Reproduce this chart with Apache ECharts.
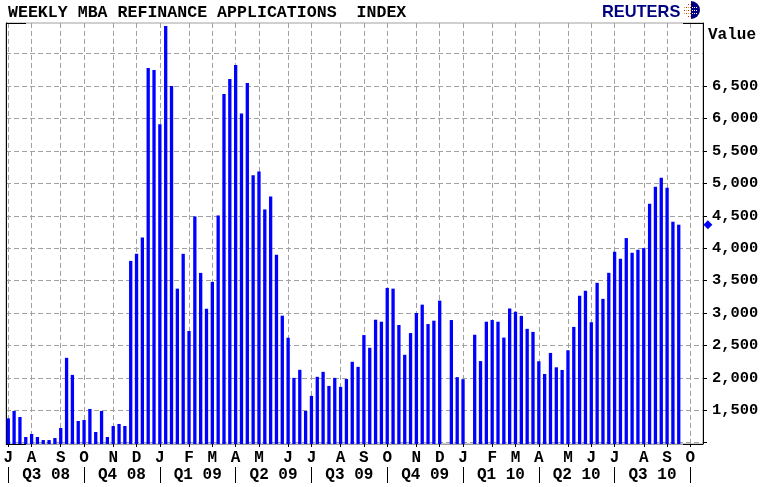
<!DOCTYPE html>
<html>
<head>
<meta charset="utf-8">
<style>
  html, body { margin: 0; padding: 0; background: #fff; }
  #c_container { width: 763px; height: 487px; }
</style>
<script src="https://cdn.jsdelivr.net/npm/echarts@6/dist/echarts.min.js"></script>
</head>
<body>
<div id="c_container"></div>
<script>
// weekly index, null = no bar that week
var values = [
  1376, 1490, 1397, 1088, 1134, 1088, 1041, 1041, 1072, 1227,
  2309, 2046, 1335, 1350, 1521, 1165, 1490, 1088, 1258, 1289,
  1258, 3804, 3913, 4165, 6779, 6748, 5913, 7428, 6500, 3376,
  3913, 2722, 4490, 3619, 3067, 3480, 4505, 6377, 6609, 6825,
  6078, 6547, 5124, 5181, 4598, 4799, 3897, 2959, 2619, 2000,
  2124, 1490, 1722, 2016, 2093, 1876, 2000, 1861, 1982, 2248,
  2170, 2660, 2464, 2897, 2866, 3387, 3376, 2815, 2356, 2691,
  3000, 3129, 2830, 2882, 3191, null, 2892, 2011, 1979, null,
  2665, 2259, 2866, 2892, 2866, 2621, 3070, 3020, 2956, 2756,
  2709, 2256, 2060, 2385, 2163, 2122, 2426, 2786, 3265, 3342,
  2858, 3466, 3219, 3620, 3945, 3836, 4156, 3929, 3976, 4001,
  4687, 4949, 5088, 4933, 4408, 4362
];
var lastValue = 4362;
var lastMarkerPos = 120;

var monthTicks = [0, 4, 9, 13, 18, 22, 26, 31, 35, 39, 43, 48, 52, 57, 61, 65, 70, 74, 78, 83, 87, 91, 96, 100, 104, 109, 113, 117];
var monthLabels = ["J", "A", "S", "O", "N", "D", "J", "F", "M", "A", "M", "J", "J", "A", "S", "O", "N", "D", "J", "F", "M", "A", "M", "J", "J", "A", "S", "O"];

var quarterTicks = [0, 13, 26, 39, 52, 65, 78, 91, 104, 117];
var quarterMids = [6.5, 19.5, 32.5, 45.5, 58.5, 71.5, 84.5, 97.5, 110.5];
var quarterLabels = ["Q3 08", "Q4 08", "Q1 09", "Q2 09", "Q3 09", "Q4 09", "Q1 10", "Q2 10", "Q3 10"];

var gridValues = [1000, 1500, 2000, 2500, 3000, 3500, 4000, 4500, 5000, 5500, 6000, 6500, 7000];
var tickValues = [1000, 1500, 2000, 2500, 3000, 3500, 4000, 4500, 5000, 5500, 6000, 6500];
var labelValues = [1500, 2000, 2500, 3000, 3500, 4000, 4500, 5000, 5500, 6000, 6500];

var font_name = "Liberation Mono";
var grey = "#a0a0a0";
var blue = "#0000ff";
var navy = "#000080";
var xMin = -0.39, xMax = 119.16;
var yMin = 980, yMax = 7473;

var barData = [];
for (var i = 0; i < values.length; i++) {
  if (values[i] !== null) barData.push([i, values[i]]);
}

var dashed = { show: true, lineStyle: { color: grey, type: [5, 3], width: 1 } };

function blackLine(x1, y, x2) {
  return { type: "line", shape: { x1: x1, y1: y, x2: x2, y2: y }, style: { stroke: "#000" }, z: 10 };
}

function dot(x, y, color) {
  return { type: "rect", shape: { x: x, y: y, width: 1, height: 1 }, style: { fill: color }, z: 12 };
}

// reuters logo: half globe with a grid of dots
var logo = [
  {
    type: "text", x: 602, y: 4, z: 10,
    style: { text: "REUTERS", fill: navy, fontFamily: "Liberation Sans", fontWeight: "bold", fontSize: 16.4 }
  },
  { type: "sector", shape: { cx: 691, cy: 10, r: 9, r0: 0, startAngle: -Math.PI / 2, endAngle: Math.PI / 2 }, style: { fill: navy }, z: 10 }
];
[4, 7, 10, 13, 16].forEach(function (y, row) {
  [684, 686, 688, 690].forEach(function (x, col) {
    if (row == 0 && col < 2) return;
    if (row == 4 && col < 2) return;
    logo.push(dot(x, y, (col + row) % 2 ? "#e0b020" : "#d02020"));
  });
});
[7, 10, 13].forEach(function (y) {
  [692, 694, 696].forEach(function (x) {
    logo.push(dot(x, y, "#ffffff"));
  });
});

var myChart = echarts.init(document.getElementById("c_container"));
myChart.setOption({
  animation: false,
  backgroundColor: "#fff",
  grid: { left: 6, right: 60, top: 23, bottom: 43, show: true, borderColor: grey, borderWidth: 1 },
  title: {
    text: "WEEKLY MBA REFINANCE APPLICATIONS  INDEX",
    left: 8, top: 4, padding: 0,
    textStyle: { fontFamily: font_name, fontSize: 16.6, fontWeight: "bold", color: "#000" }
  },
  xAxis: [
    {
      type: "value", min: xMin, max: xMax, position: "bottom",
      axisLine: { show: true, onZero: false, lineStyle: { color: grey } },
      axisTick: { show: true, length: 3, customValues: monthTicks, lineStyle: { color: "#000" } },
      splitLine: dashed,
      axisLabel: {
        customValues: monthTicks, margin: 6, hideOverlap: false,
        fontFamily: font_name, fontSize: 16, fontWeight: "bold", color: "#000",
        formatter: function (v) { return monthLabels[monthTicks.indexOf(v)]; }
      }
    },
    {
      type: "value", min: xMin, max: xMax, position: "bottom", offset: 23,
      axisLine: { show: false, onZero: false },
      axisTick: { show: true, length: 16, customValues: quarterTicks, lineStyle: { color: "#000" } },
      splitLine: { show: false },
      axisLabel: {
        customValues: quarterMids, margin: 0, hideOverlap: false,
        fontFamily: font_name, fontSize: 16, fontWeight: "bold", color: "#000",
        formatter: function (v) { return quarterLabels[quarterMids.indexOf(v)]; }
      }
    }
  ],
  yAxis: [
    {
      type: "value", min: yMin, max: yMax, position: "right",
      name: "Value", nameLocation: "end", nameGap: -20,
      nameTextStyle: { fontFamily: font_name, fontSize: 16, fontWeight: "bold", color: "#000", align: "left", padding: [0, 0, 0, 5] },
      axisLine: { show: true, onZero: false, lineStyle: { color: "#000" } },
      axisTick: { show: true, length: 4, customValues: tickValues, lineStyle: { color: "#000" } },
      splitLine: { show: false },
      axisLabel: {
        customValues: labelValues, margin: 9, hideOverlap: false,
        fontFamily: font_name, fontSize: 15.4, fontWeight: "bold", color: "#000",
        formatter: function (v) { return echarts.format.addCommas(v); }
      }
    },
    {
      type: "value", min: yMin, max: yMax, position: "left",
      axisLine: { show: true, onZero: false, lineStyle: { color: "#000" } },
      axisTick: { show: false, customValues: gridValues },
      axisLabel: { show: false },
      splitLine: dashed
    }
  ],
  series: [
    { type: "bar", data: barData, barWidth: 3.3, itemStyle: { color: blue }, z: 3 },
    {
      type: "scatter", data: [[lastMarkerPos, lastValue]], clip: false,
      symbol: "diamond", symbolSize: 9, itemStyle: { color: blue, opacity: 1 }, z: 4
    }
  ],
  graphic: [
    blackLine(6, 23.5, 26),
    blackLine(6, 444.5, 26),
    blackLine(683, 23.5, 703),
    blackLine(683, 444.5, 703)
  ].concat(logo)
});
</script>
</body>
</html>
